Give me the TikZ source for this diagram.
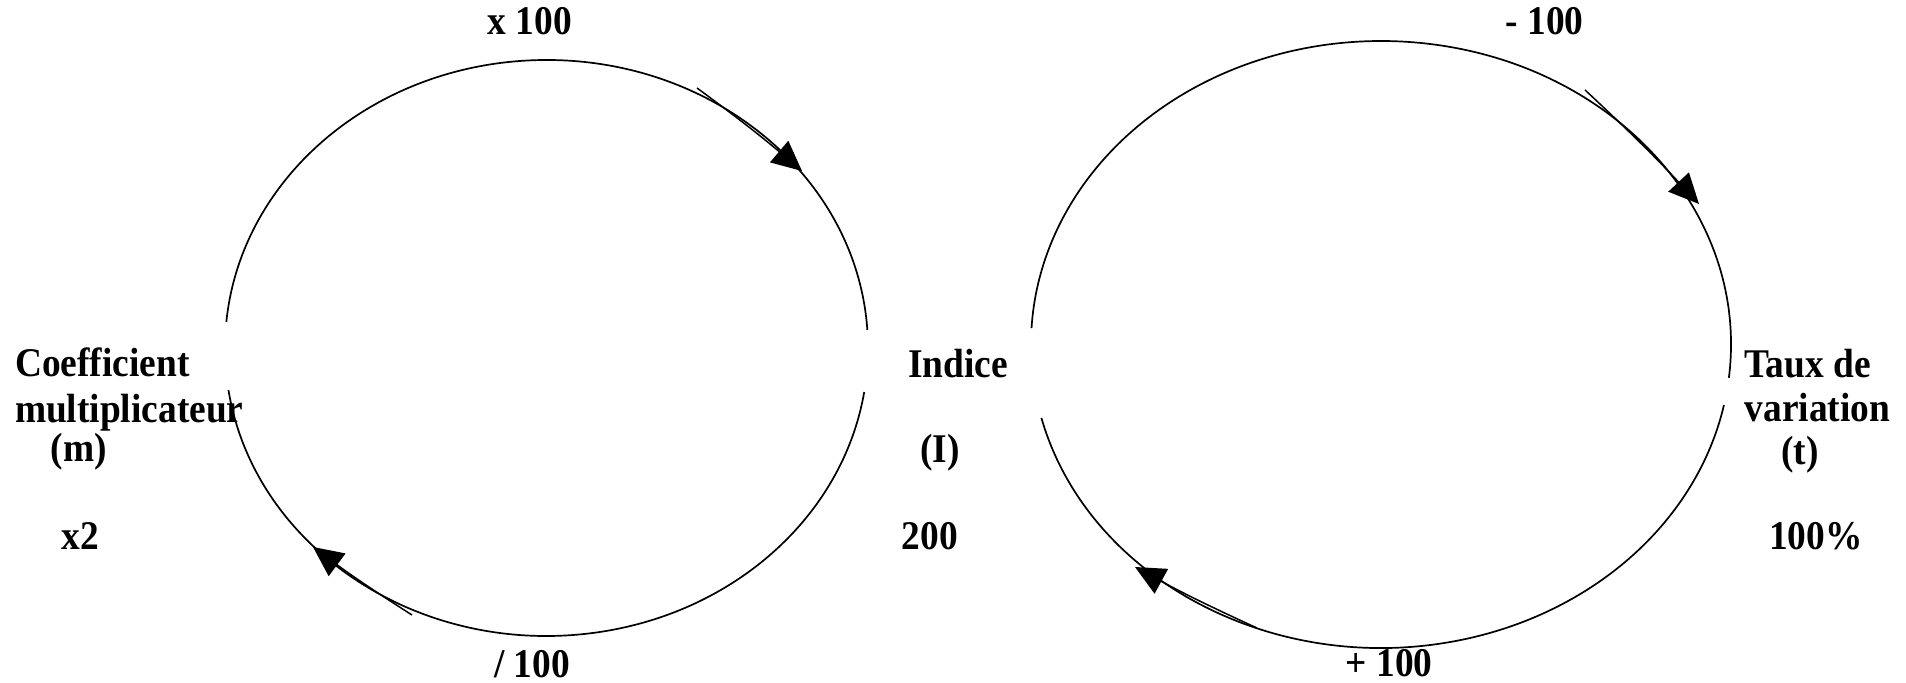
\documentclass[tikz,border=0pt]{standalone}
\usepackage{fontspec}
\usepackage{graphicx}
\setmainfont{Liberation Serif}
\usetikzlibrary{arrows.meta}
\newcommand{\vtxt}[1]{\scalebox{1}[1.09]{#1}}
\begin{document}
\begin{tikzpicture}[x=0.5pt,y=0.5pt,
  lbl/.style={inner sep=0pt,outer sep=0pt,font=\fontsize{18.7}{22}\selectfont\bfseries},
  ring/.style={line width=0.85pt},
  flowarrow/.style={line width=0.75pt,-{Triangle[length=15pt,width=14pt]}}]
\useasboundingbox (0,0) rectangle (1906,683);
% left cycle
\draw[ring] ([shift={(546.5,335)}]3.6:321.5 and 288) arc[start angle=3.6,end angle=174.8,x radius=321.5,y radius=288];
\draw[ring] ([shift={(546.5,335)}]188.4:321.5 and 288) arc[start angle=188.4,end angle=351.2,x radius=321.5,y radius=288];
% right cycle
\draw[ring] ([shift={(1381,338.5)}]-6.3:350 and 303.5) arc[start angle=-6.3,end angle=176.9,x radius=350,y radius=303.5];
\draw[ring] ([shift={(1381,338.5)}]194.0:350 and 303.5) arc[start angle=194.0,end angle=348.5,x radius=350,y radius=303.5];
% arrow end points
\coordinate (a1s) at (697,595);
\coordinate (a1e) at (802,512);
\coordinate (a2s) at (412,68);
\coordinate (a2e) at (313,136);
\coordinate (a3s) at (1585,593);
\coordinate (a3e) at (1699,479);
\coordinate (a4s) at (1257,55);
\coordinate (a4e) at (1135,116);
\draw[flowarrow] (a1s) to[bend left=2] (a1e);
\draw[flowarrow] (a2s) to[bend left=2] (a2e);
\draw[flowarrow] (a3s) to[bend left=2] (a3e);
\draw[flowarrow] (a4s) to[bend left=2] (a4e);
% labels
\node[lbl,anchor=base] (times) at (530,648) {\vtxt{x 100}};
\node[lbl,anchor=base] (minus) at (1544.5,648) {\vtxt{- 100}};
\node[lbl,anchor=base] (div) at (532,5) {\vtxt{/ 100}};
\node[lbl,anchor=base] (plus) at (1389,6) {\vtxt{+ 100}};
\node[lbl,anchor=base west] (coef) at (15,306) {\vtxt{Coefficient}};
\node[lbl,anchor=base west] (mult) at (15,260) {\vtxt{multiplicateur}};
\node[lbl,anchor=base] (msym) at (79,221) {\vtxt{(m)}};
\node[lbl,anchor=base] (mval) at (80.5,133) {\vtxt{x2}};
\node[lbl,anchor=base] (ind) at (958,305) {\vtxt{Indice}};
\node[lbl,anchor=base] (isym) at (940,220) {\vtxt{(I)}};
\node[lbl,anchor=base] (ival) at (930,133) {\vtxt{200}};
\node[lbl,anchor=base] (taux) at (1807.5,305) {\vtxt{Taux de}};
\node[lbl,anchor=base] (var) at (1817.5,261) {\vtxt{variation}};
\node[lbl,anchor=base] (tsym) at (1800,218) {\vtxt{(t)}};
\node[lbl,anchor=base] (tval) at (1816,133) {\vtxt{100\%}};
\end{tikzpicture}
\end{document}
